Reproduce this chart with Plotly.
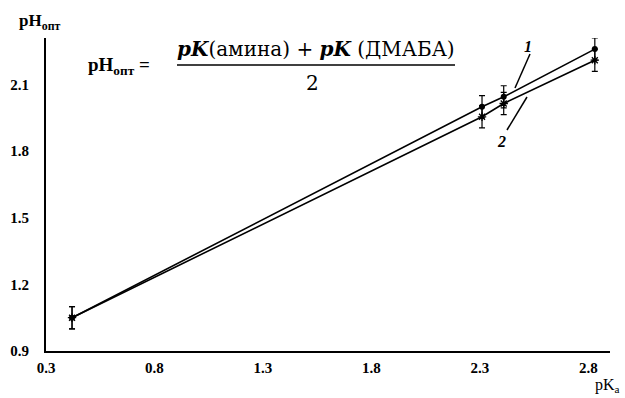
import plotly.graph_objects as go

# Data
pka_1 = [0.42, 2.31, 2.41, 2.83]
ph_1 = [1.05, 2.00, 2.045, 2.26]
err_1 = [0.05, 0.05, 0.05, 0.05]

pka_2 = [0.42, 2.31, 2.41, 2.83]
ph_2 = [1.05, 1.955, 2.015, 2.21]
err_2 = [0.05, 0.05, 0.05, 0.05]

x_ticks = [0.3, 0.8, 1.3, 1.8, 2.3, 2.8]
y_ticks = [0.9, 1.2, 1.5, 1.8, 2.1]

W, H = 625, 398
L, R, T, B = 46, 15, 38, 47
PW, PH = W - L - R, H - T - B

def px(x):
    return (x - L) / PW

def py(y):
    return (H - B - y) / PH

SERIF = "Liberation Serif"
MATH = "DejaVu Serif"

fig = go.Figure()
fig.add_trace(go.Scatter(
    x=pka_1, y=ph_1, mode="lines+markers",
    line=dict(color="black", width=1.6),
    marker=dict(symbol="circle", size=6, color="black"),
    error_y=dict(type="data", array=err_1, color="black", thickness=1.2, width=3),
    showlegend=False))
fig.add_trace(go.Scatter(
    x=pka_2, y=ph_2, mode="lines+markers",
    line=dict(color="black", width=1.6),
    marker=dict(symbol="asterisk-open", size=7, color="black", line=dict(width=1.3, color="black")),
    error_y=dict(type="data", array=err_2, color="black", thickness=1.2, width=3),
    showlegend=False))

fig.update_layout(
    width=W, height=H,
    margin=dict(l=L, r=R, t=T, b=B, autoexpand=False),
    plot_bgcolor="white", paper_bgcolor="white",
    font=dict(family=SERIF, color="black"),
    xaxis=dict(range=[0.3, 2.9], tickvals=x_ticks, ticktext=[f"{v:.1f}" for v in x_ticks],
               showgrid=False, zeroline=False, showline=True, linecolor="black", linewidth=2,
               ticks="", ticklen=0, automargin=False,
               tickfont=dict(family=SERIF, size=15, weight="bold"), ticklabelstandoff=2),
    yaxis=dict(range=[0.9, 2.31], tickvals=y_ticks, ticktext=[f"{v:.1f}" for v in y_ticks],
               showgrid=False, zeroline=False, showline=True, linecolor="black", linewidth=2,
               ticks="", ticklen=0, automargin=False,
               tickfont=dict(family=SERIF, size=15, weight="bold"), ticklabelstandoff=12),
)

def note(x, y, text, size, family=SERIF, xanchor="center"):
    return dict(x=px(x), y=py(y), xref="paper", yref="paper", showarrow=False,
                xanchor=xanchor, yanchor="middle", text=text,
                font=dict(family=family, size=size))

ann = [
    note(17, 22, "<b>pH<sub>опт</sub></b>", 17, xanchor="left"),
    note(593, 385, "pK<sub>a</sub>", 16, xanchor="left"),
    note(86, 66, "<b>pH<sub>опт</sub> =</b>", 19, xanchor="left"),
    note(316, 49, "<b><i>pK</i></b>(амина) + <b><i>pK</i></b> (ДМАБА)", 20, family=MATH),
    note(312, 83, "2", 20, family=MATH),
    note(528, 46, "<b><i>1</i></b>", 16),
    note(501, 141, "<b><i>2</i></b>", 16),
]
fig.update_layout(annotations=ann)

shapes = [
    dict(type="line", xref="paper", yref="paper", x0=px(177), x1=px(455), y0=py(65), y1=py(65),
         line=dict(color="black", width=1.3)),
    dict(type="line", xref="paper", yref="paper", x0=px(530), x1=px(515), y0=py(54), y1=py(88),
         line=dict(color="black", width=1.5)),
    dict(type="line", xref="paper", yref="paper", x0=px(527), x1=px(507), y0=py(97), y1=py(130),
         line=dict(color="black", width=1.5)),
]
fig.update_layout(shapes=shapes)

fig.write_html("out.html", config={"displayModeBar": False},
               post_script="document.body.style.margin='0';document.body.style.overflow='hidden';")
